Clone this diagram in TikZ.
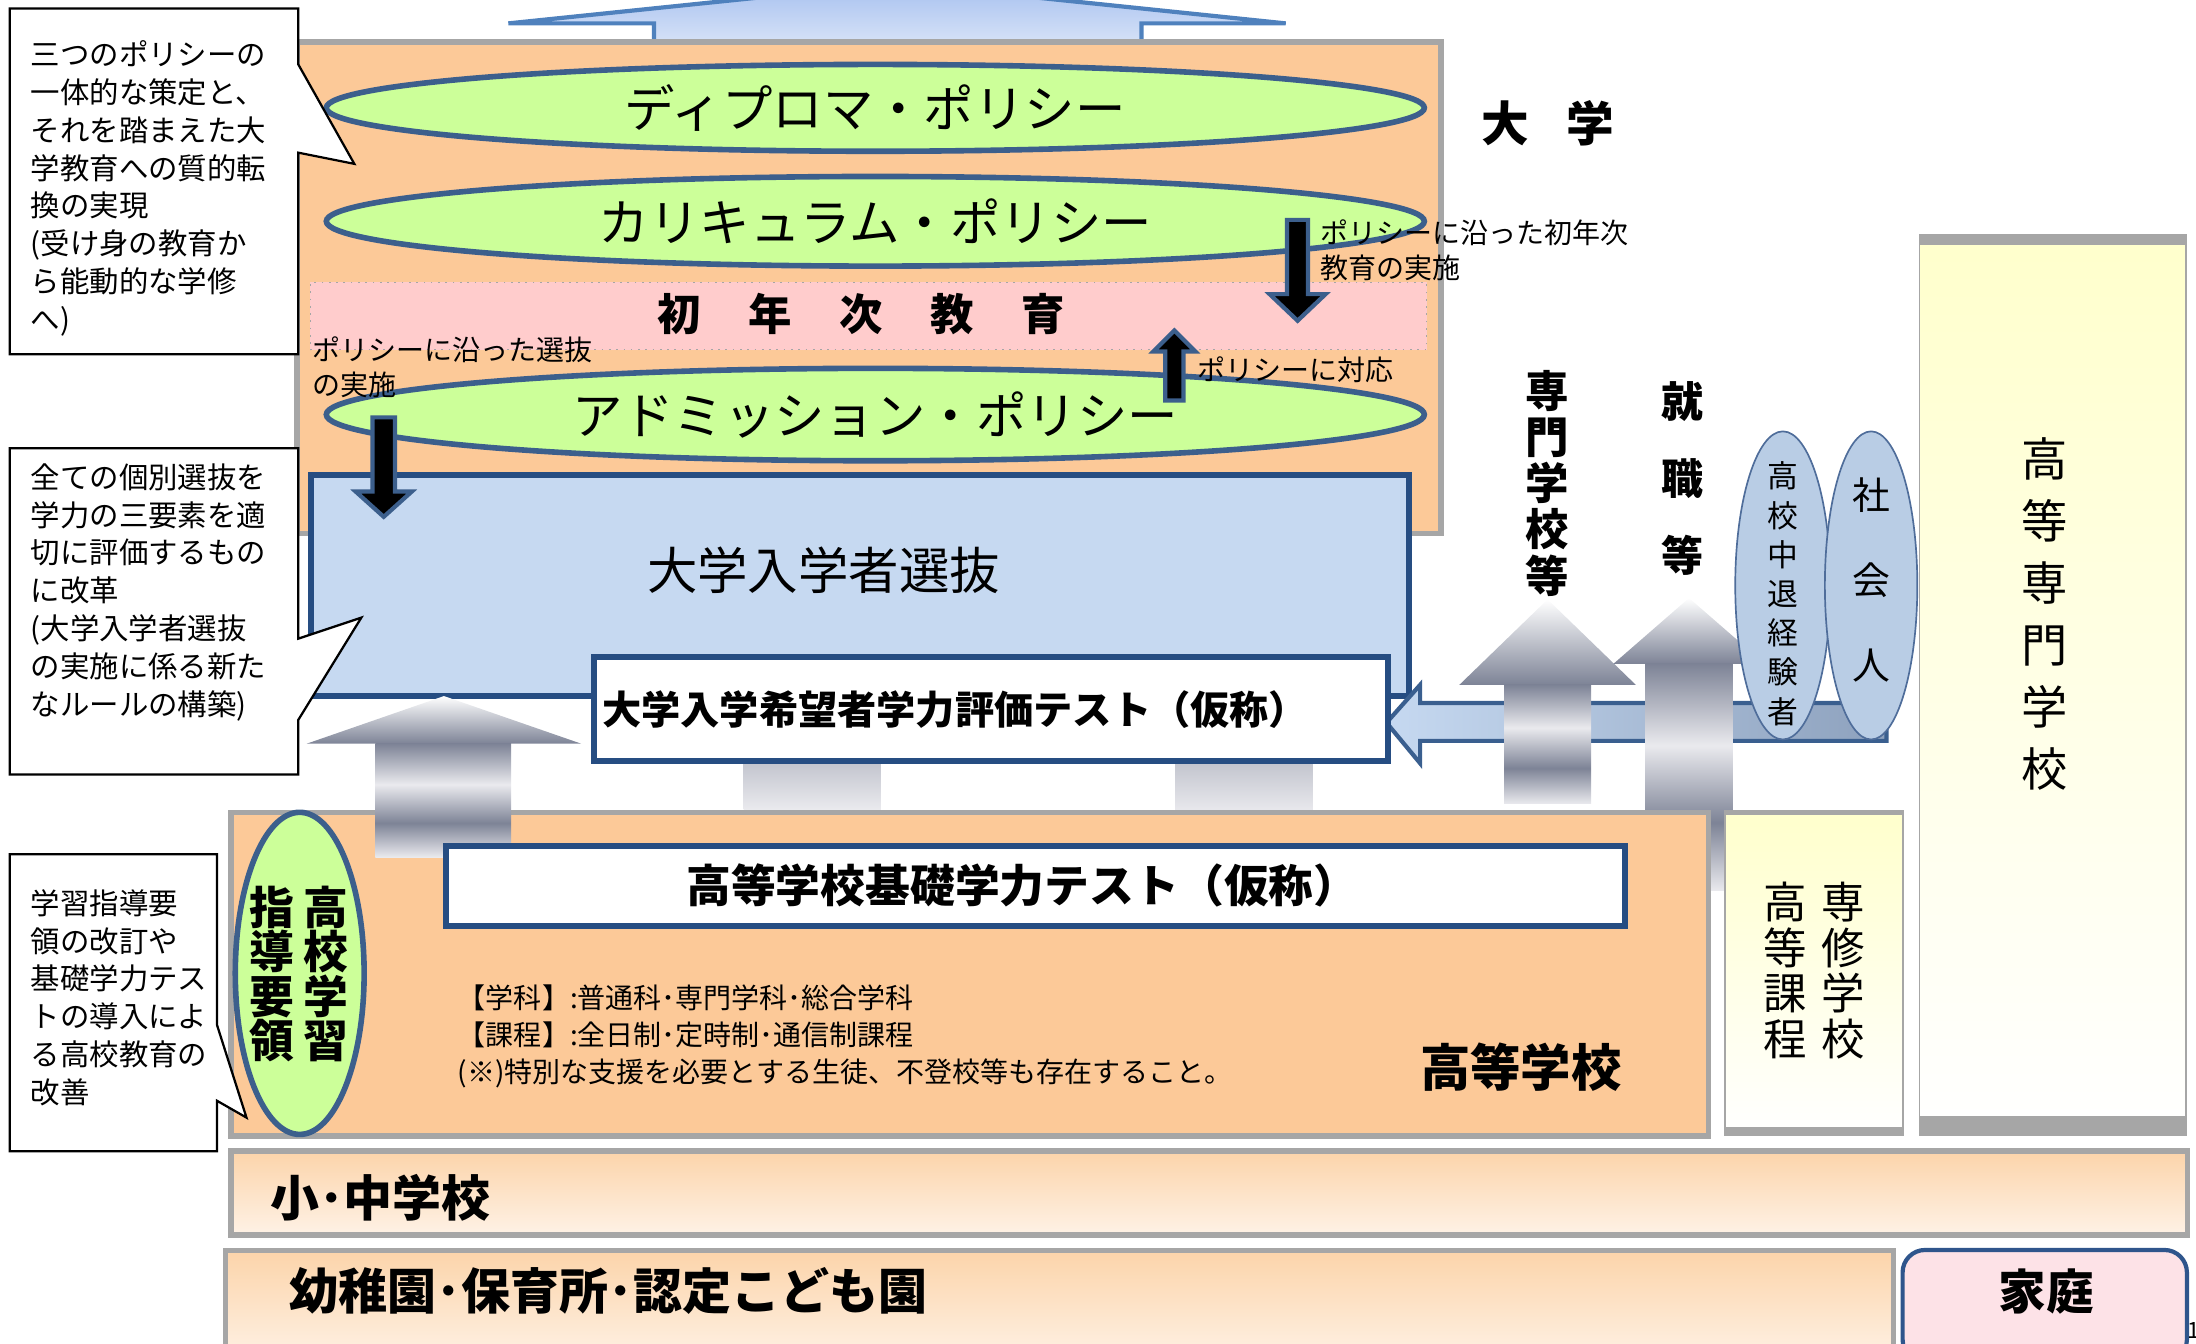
\documentclass[tikz,border=0pt]{standalone}
\usepackage{fontspec}
\setmainfont{Noto Sans CJK JP}
\usetikzlibrary{shapes.geometric}
\definecolor{orng}{RGB}{252,201,152}
\definecolor{grn}{RGB}{204,255,153}
\definecolor{elb}{RGB}{60,95,140}
\definecolor{dkb}{RGB}{38,77,130}
\definecolor{gbr}{RGB}{166,166,166}
\definecolor{pnk}{RGB}{255,204,204}
\definecolor{lblue}{RGB}{198,217,241}
\definecolor{gD}{RGB}{125,131,150}
\definecolor{gL}{RGB}{234,234,238}
\definecolor{yl}{RGB}{255,255,204}
\definecolor{pch}{RGB}{252,212,170}
\definecolor{pchl}{RGB}{254,242,230}
\definecolor{skb}{RGB}{185,205,229}
\definecolor{ebd}{RGB}{79,109,154}
\definecolor{fam}{RGB}{253,226,231}
\definecolor{famb}{RGB}{47,85,140}
\definecolor{tblue}{RGB}{79,129,189}
\definecolor{tarT}{RGB}{166,192,239}
\definecolor{tarB}{RGB}{213,225,247}
\definecolor{bar}{RGB}{58,95,143}
\definecolor{barR}{RGB}{141,161,189}
\pgfdeclareverticalshading{metal}{100bp}{color(0bp)=(gL); color(25bp)=(gL); color(40bp)=(gD); color(57bp)=(gL); color(75bp)=(gD); color(100bp)=(gD)}
\newcommand\fsz[2]{\fontsize{#1}{#2}\selectfont}
\begin{document}
\begin{tikzpicture}[x=0.5pt,y=-0.5pt,
  txt/.style={inner sep=0pt, outer sep=0pt},
  pol/.style={ellipse, draw=elb, line width=2pt, fill=grn, inner sep=0pt, minimum width=392pt},
  bluebox/.style={draw=dkb, line width=2.2pt, fill=lblue, inner sep=0pt},
  whitebox/.style={draw=dkb, line width=2.2pt, fill=white, inner sep=0pt},
  graybox/.style={draw=gbr, line width=2pt, inner sep=0pt},
  callout/.style={draw=black, line width=0.8pt, fill=white},
  blkarrow/.style={fill=black, draw=elb, line width=1.5pt},
  grayhead/.style={top color=white, bottom color=gD},
  grayshaft/.style={shading=metal}]
\useasboundingbox (0,0) rectangle (1568,959);
\clip (0,0) rectangle (1568,959);

% top arrow
\draw[draw=tblue, line width=1.5pt, top color=tarT, bottom color=tarB] (467,30) -- (467,16.7) -- (363,16.7) -- (641,-12) -- (918,16.7) -- (815,16.7) -- (815,30) -- cycle;

% university
\node[graybox, anchor=north west, fill=orng, minimum width=408.5pt, minimum height=175.5pt] (univ) at (210,28) {};
\node[txt, font=\bfseries\fsz{17}{17}] (univlbl) at (1105,88) {大\hspace{13.5pt}学};

\node[pol, minimum height=31pt, font=\fsz{18}{18}] (dp) at (625,77) {ディプロマ・ポリシー};
\node[pol, minimum height=32pt, font=\fsz{18}{18}] (cp) at (625,158) {カリキュラム・ポリシー};
\node[anchor=north west, fill=pnk, draw=gbr, dotted, line width=0.6pt, minimum width=398.5pt, minimum height=24pt, inner sep=0pt] (fye) at (221,201) {};
\node[txt, font=\bfseries\fsz{15.5}{15.5}] (fyelbl) at (615,224) {初\hspace{17pt}年\hspace{17pt}次\hspace{17pt}教\hspace{17pt}育};
\node[pol, minimum height=33pt, font=\fsz{18}{18}] (ap) at (625,296) {アドミッション・ポリシー};

\node[txt, anchor=west, font=\fsz{10}{12.5}, align=left] (t1) at (943,179) {ポリシーに沿った初年次\\教育の実施};
\node[txt, anchor=west, font=\fsz{10}{10}] (t2) at (855,264) {ポリシーに対応};
\node[txt, anchor=west, font=\fsz{10}{12.5}, align=left] (t3) at (223,262) {ポリシーに沿った選抜\\の実施};

\draw[blkarrow] (919,157) -- (934,157) -- (934,210) -- (946.5,210) -- (926.5,229) -- (906.5,210) -- (919,210) -- cycle;
\draw[blkarrow] (832,286) -- (845,286) -- (845,251) -- (853.5,251) -- (838.5,236) -- (823.5,251) -- (832,251) -- cycle;

% selection
\node[bluebox, anchor=north west, minimum width=392pt, minimum height=79pt] (sel) at (220,337) {};
\node[txt, font=\fsz{18}{18}] (sellbl) at (588,407) {大学入学者選抜};
\draw[blkarrow] (266,298) -- (282,298) -- (282,351) -- (294,351) -- (274,369) -- (254,351) -- (266,351) -- cycle;

% gray stubs
\shade[top color=gL!60!gD, middle color=gD, bottom color=gL] (531,541) rectangle (629,578);
\shade[top color=gL!60!gD, middle color=gD, bottom color=gL] (839,541) rectangle (937,580);

% blue left arrow
\draw[draw=bar, line width=1.5pt, left color=lblue, right color=barR] (990,516) -- (1014,489) -- (1014,502) -- (1347,502) -- (1347,529) -- (1014,529) -- (1014,545) -- cycle;

% university test
\node[whitebox, anchor=north west, minimum width=283.5pt, minimum height=37pt] (test) at (422,467) {};
\node[txt, anchor=west, font=\bfseries\fsz{14}{14}] (testlbl) at (430,507) {大学入学希望者学力評価テスト（仮称）};

% right gray arrows
\shade[grayhead] (1042,489) -- (1105,428) -- (1168,489) -- cycle;
\shade[grayshaft] (1074,489) rectangle (1136,574);
\shade[grayhead] (1152,474) -- (1206,427) -- (1260,474) -- cycle;
\shade[grayshaft] (1175,474) rectangle (1237,636);

\node[ellipse, draw=ebd, line width=0.6pt, fill=skb, minimum width=34pt, minimum height=110pt, inner sep=0pt] (drop) at (1273,418) {};
\node[ellipse, draw=ebd, line width=0.6pt, fill=skb, minimum width=33pt, minimum height=110pt, inner sep=0pt] (soc) at (1336,418) {};
\node[txt, font=\fsz{11}{14}, align=center] (droplbl) at (1273,424) {高\\校\\中\\退\\経\\験\\者};
\node[txt, font=\fsz{13.5}{30.25}, align=center] (soclbl) at (1336,414) {社\\会\\人};

\node[txt, font=\bfseries\fsz{15.5}{16.5}, align=center] (senmon) at (1105,345) {専\\門\\学\\校\\等};
\node[txt, font=\bfseries\fsz{15}{27.5}, align=center] (shushoku) at (1201,342) {就\\職\\等};

% kosen
\node[anchor=north west, draw=gbr, line width=0.6pt, top color=yl, bottom color=white, minimum width=95pt, minimum height=321.5pt, inner sep=0pt] (kosen) at (1370,167) {};
\fill[gbr] (1370,167) rectangle (1560,175);
\fill[gbr] (1370,797) rectangle (1560,810);
\node[txt, font=\fsz{16.5}{22.1}, align=center] (kosenlbl) at (1460,438.5) {高\\等\\専\\門\\学\\校};

% high school
\node[graybox, anchor=north west, fill=orng, minimum width=527.5pt, minimum height=115.5pt] (hs) at (163,578) {};
\node[txt, font=\bfseries\fsz{18}{18}] (hslbl) at (1086,762) {高等学校};
\node[txt, anchor=north west, font=\fsz{10}{13.25}, align=left] (notes) at (327,703) {【学科】:普通科･専門学科･総合学科\\【課程】:全日制･定時制･通信制課程\\(※)特別な支援を必要とする生徒、不登校等も存在すること。};

\shade[grayhead] (219,531) -- (317,497) -- (415,531) -- cycle;
\shade[grayshaft] (268,531) rectangle (365,612);

\node[whitebox, anchor=north west, minimum width=421pt, minimum height=28.5pt] (hstest) at (316,602) {};
\node[txt, font=\bfseries\fsz{16}{16}] (hstestlbl) at (730,632) {高等学校基礎学力テスト（仮称）};

\node[ellipse, draw=elb, line width=2pt, fill=grn, minimum width=46pt, minimum height=115pt, inner sep=0pt] (gl) at (214,695) {};
\node[txt, font=\bfseries\fsz{16}{15.85}, align=center] (gl1) at (233,695.5) {高\\校\\学\\習};
\node[txt, font=\bfseries\fsz{16}{15.85}, align=center] (gl2) at (194,695.5) {指\\導\\要\\領};

% senshu
\node[anchor=north west, draw=gbr, line width=0.6pt, top color=yl, bottom color=white, minimum width=63.5pt, minimum height=116pt, inner sep=0pt] (senshu) at (1231,578) {};
\fill[gbr] (1231,578) rectangle (1358,582);
\fill[gbr] (1231,805) rectangle (1358,810);
\node[txt, font=\fsz{15.5}{16.3}, align=center] (ss1) at (1316,693) {専\\修\\学\\校};
\node[txt, font=\fsz{15.5}{16.3}, align=center] (ss2) at (1275,693) {高\\等\\課\\程};

% bands
\node[graybox, anchor=north west, top color=pch, bottom color=pchl, minimum width=698.5pt, minimum height=30pt] (es) at (163,820) {};
\node[txt, anchor=west, font=\bfseries\fsz{17.5}{17.5}] (eslbl) at (193,855) {小･中学校};
\node[graybox, anchor=north west, top color=pch, bottom color=pchl, minimum width=595.5pt, minimum height=40pt] (kg) at (159,891) {};
\node[txt, anchor=west, font=\bfseries\fsz{17.5}{17.5}] (kglbl) at (207,922) {幼稚園･保育所･認定こども園};
\node[anchor=north west, draw=famb, line width=1.5pt, fill=fam, rounded corners=8pt, minimum width=101.5pt, minimum height=40pt, inner sep=0pt] (home) at (1357,891) {};
\node[txt, font=\bfseries\fsz{17}{17}] (homelbl) at (1461,922) {家庭};
\node[txt, anchor=west, font=\fsz{8}{8}] (pg) at (1562,950) {1};

% callouts
\draw[callout] (7,6) -- (213,6) -- (213,46) -- (253,117) -- (213,109) -- (213,253) -- (7,253) -- cycle;
\node[txt, anchor=north west, font=\fsz{10.5}{13.5}, align=left] (c1) at (22,29) {三つのポリシーの\\一体的な策定と、\\それを踏まえた大\\学教育への質的転\\換の実現\\(受け身の教育か\\ら能動的な学修\\へ)};
\draw[callout] (7,320) -- (213,320) -- (213,456) -- (258,441) -- (213,514) -- (213,553) -- (7,553) -- cycle;
\node[txt, anchor=north west, font=\fsz{10.5}{13.5}, align=left] (c2) at (22,331) {全ての個別選抜を\\学力の三要素を適\\切に評価するもの\\に改革\\(大学入学者選抜\\の実施に係る新た\\なルールの構築)};
\draw[callout] (7,610) -- (155,610) -- (155,732) -- (176,798) -- (155,786) -- (155,822) -- (7,822) -- cycle;
\node[txt, anchor=north west, font=\fsz{10.5}{13.5}, align=left] (c3) at (22,635) {学習指導要\\領の改訂や\\基礎学力テス\\トの導入によ\\る高校教育の\\改善};
\end{tikzpicture}
\end{document}
